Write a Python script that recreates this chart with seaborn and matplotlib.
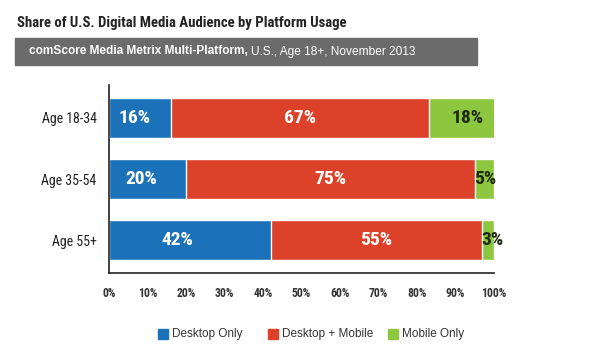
import pandas as pd
import matplotlib
matplotlib.use("Agg")
import matplotlib.pyplot as plt
import seaborn as sns
from matplotlib.patches import Rectangle

# data
ages = ["Age 18-34", "Age 35-54", "Age 55+"]
desktop_only = [16, 20, 42]
desktop_mobile = [67, 75, 55]
mobile_only = [18, 5, 3]
series = ["Desktop Only", "Desktop + Mobile", "Mobile Only"]
colors = ["#1b72b9", "#dc4129", "#8dc63f"]
xticks = list(range(0, 101, 10))

sns.set_style("white")
narrow = ["Roboto Condensed", "IBM Plex Sans Condensed", "DejaVu Sans"]
plt.rcParams["font.family"] = ["Liberation Sans", "DejaVu Sans"]

df = pd.DataFrame({"age": ages, "blue": desktop_only, "red": desktop_mobile, "green": mobile_only})
df["cum_red"] = df["blue"] + df["red"]
df["cum_green"] = df["cum_red"] + df["green"]

fig = plt.figure(figsize=(6, 3.63), dpi=100)
ax = fig.add_axes([0.1817, 0.2479, 0.6417, 0.5179])

# stacked bars: totals first, then overlay the smaller cumulative parts
sns.barplot(data=df, x="cum_green", y="age", color=colors[2], width=0.66, ax=ax, saturation=1)
sns.barplot(data=df, x="cum_red", y="age", color=colors[1], width=0.66, ax=ax, saturation=1)
sns.barplot(data=df, x="blue", y="age", color=colors[0], width=0.66, ax=ax, saturation=1)

ax.set_xlim(0, 100)
ax.set_ylim(2.54, -0.54)
ax.set_xlabel("")
ax.set_ylabel("")
ax.set_xticks(xticks)
ax.set_xticklabels([f"{t}%" for t in xticks], family=narrow, fontweight="bold", fontsize=8.5, color="#333333")
ax.set_yticklabels(ages, family=narrow, fontweight="normal", fontsize=10, color="#222222")
ax.tick_params(axis="y", length=0, pad=9)
ax.tick_params(axis="x", length=0, pad=10)
for s in ["top", "right"]:
    ax.spines[s].set_visible(False)
for s in ["left", "bottom"]:
    ax.spines[s].set_color("#222222")
    ax.spines[s].set_linewidth(1.2)

# value labels
lab = dict(family=narrow, fontweight="bold", fontsize=14, va="center")
for i in range(len(ages)):
    b, r, g = desktop_only[i], desktop_mobile[i], mobile_only[i]
    ax.text(b * 0.42, i, f"{b}%", ha="center", color="white", **lab)
    ax.text(b + r / 2, i, f"{r}%", ha="center", color="white", **lab)
    if g >= 10:
        ax.text(b + r + g / 2 + 1, i, f"{g}%", ha="center", color="#1e2a14", **lab)
    else:
        ax.text(b + r - 0.3, i, f"{g}%", ha="left", color="#1e2a14", clip_on=False, **lab)

# title and subtitle band
fig.text(17 / 600, 1 - 23 / 363, "Share of U.S. Digital Media Audience by Platform Usage",
         family=narrow, fontweight="bold", fontsize=10.6, color="#222222", va="center", ha="left")
fig.patches.append(Rectangle((15 / 600, 1 - 65 / 363), 462 / 600, 27 / 363,
                             transform=fig.transFigure, color="#6b6b6b", zorder=0))
sub1 = fig.text(29 / 600, 1 - 51.5 / 363, "comScore Media Metrix Multi-Platform,",
                fontsize=8.6, fontweight="bold", color="white", va="center", ha="left")
fig.canvas.draw()
x_end = sub1.get_window_extent().x1
fig.text((x_end + 3) / 600, 1 - 51.5 / 363, "U.S., Age 18+, November 2013",
         fontsize=8.6, color="white", va="center", ha="left")

# legend, drawn as squares plus labels
leg_x = [158, 268, 388]
for xp, c, name in zip(leg_x, colors, series):
    fig.patches.append(Rectangle((xp / 600, 1 - 339 / 363), 10 / 600, 10 / 363,
                                 transform=fig.transFigure, color=c))
    fig.text((xp + 14) / 600, 1 - 334 / 363, name, fontsize=8.5, color="#333333",
             va="center", ha="left")

fig.savefig("out.png", dpi=100)
